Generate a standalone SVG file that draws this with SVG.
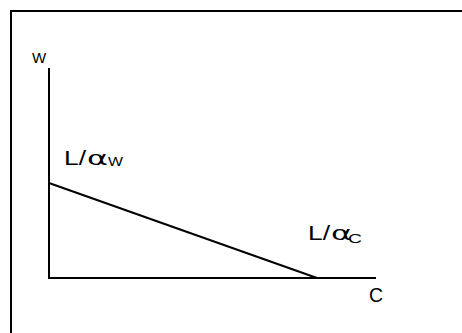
<svg xmlns="http://www.w3.org/2000/svg" width="462" height="333" viewBox="0 0 462 333">
<style>
.ln{stroke:#000;stroke-width:2;fill:none}
.t{font-family:"Liberation Sans",Arial,sans-serif;fill:#000}
.big{font-size:20px}
.al{font-family:"DejaVu Sans",sans-serif;font-size:19px;fill:#000}
.sub{font-size:13px}
</style>
<rect x="0" y="0" width="462" height="333" fill="#fff"/>
<rect class="ln" x="11" y="11" width="460" height="340"/>
<g id="connectors">
<line class="ln" x1="49" y1="68" x2="49" y2="279"/>
<line class="ln" x1="48" y1="278" x2="376" y2="278"/>
<line class="ln" x1="49" y1="183" x2="317" y2="278"/>
</g>
<g id="label-w"><text class="t" x="32" y="63" font-size="15">W</text></g>
<g id="label-lw"><text class="t big" x="64" y="165" textLength="22" lengthAdjust="spacingAndGlyphs">L/</text><text class="al" x="87" y="165" textLength="21" lengthAdjust="spacingAndGlyphs">α</text><text class="t sub" x="108" y="166" textLength="15" lengthAdjust="spacingAndGlyphs">W</text></g>
<g id="label-lc"><text class="t big" x="308" y="240" textLength="22" lengthAdjust="spacingAndGlyphs">L/</text><text class="al" x="331" y="240" textLength="21" lengthAdjust="spacingAndGlyphs">α</text><text class="t sub" x="348" y="243" textLength="14" lengthAdjust="spacingAndGlyphs">C</text></g>
<g id="label-c"><text class="t" x="369" y="302" font-size="21" textLength="14" lengthAdjust="spacingAndGlyphs">C</text></g>
</svg>
